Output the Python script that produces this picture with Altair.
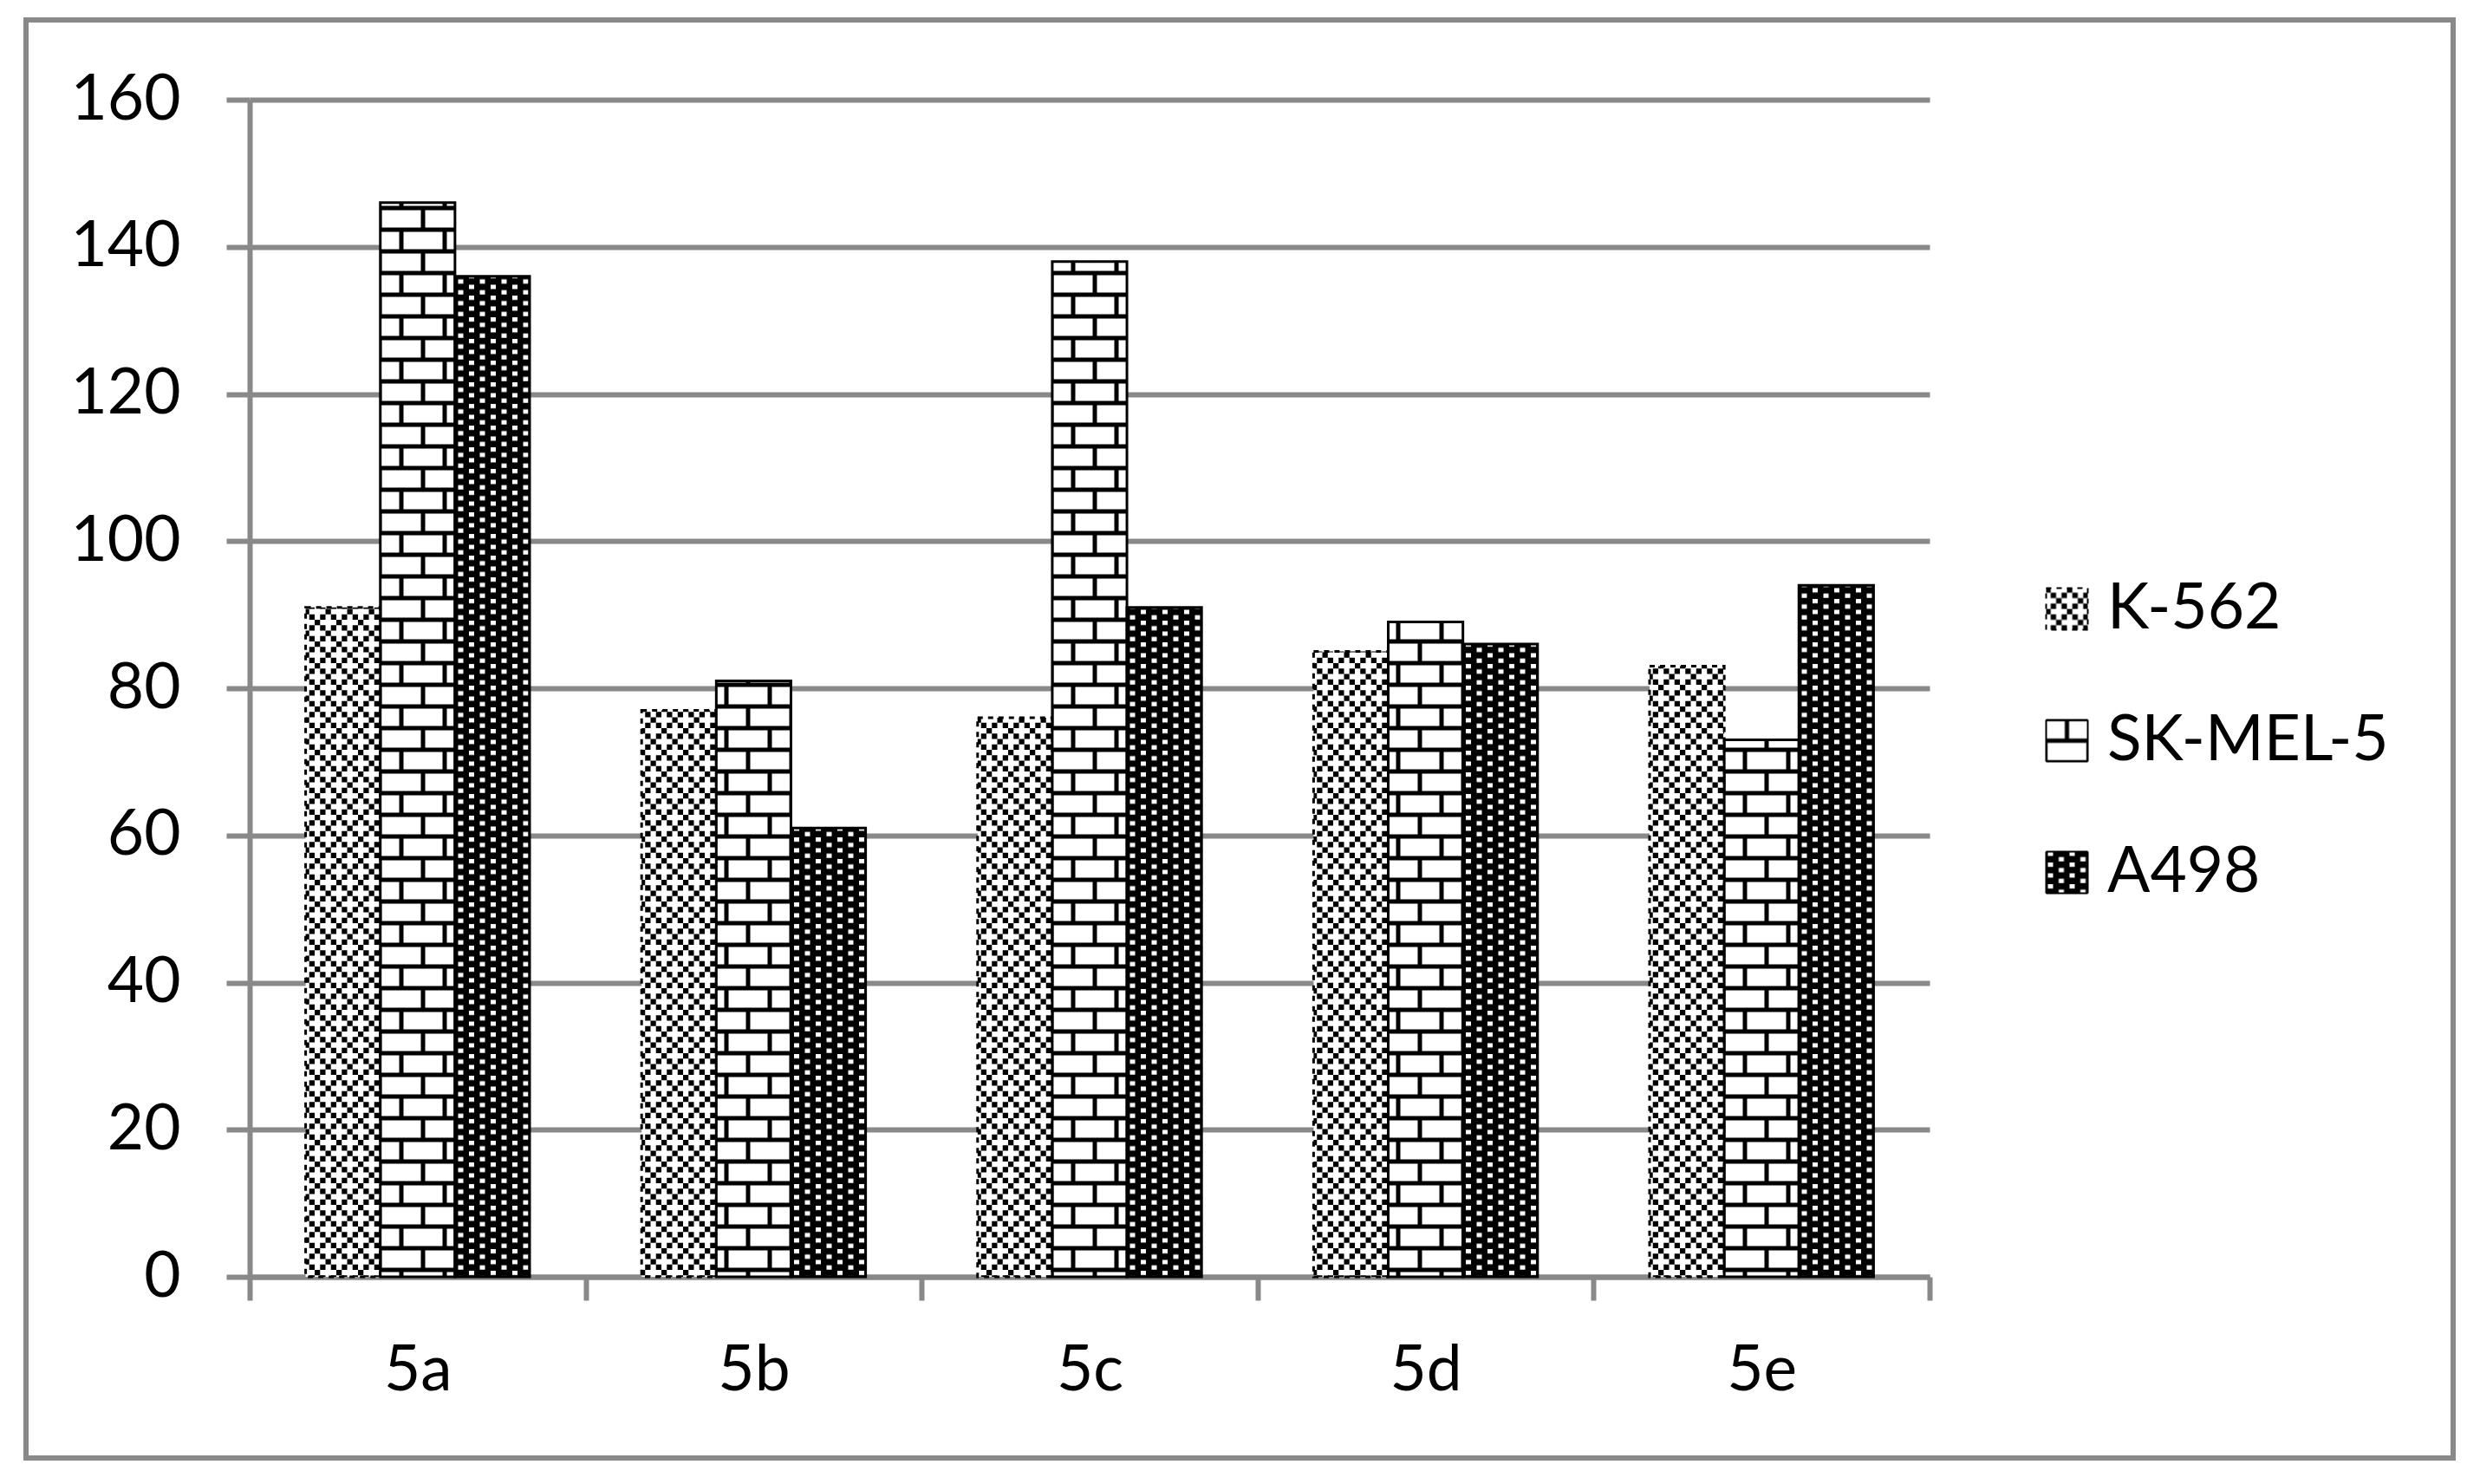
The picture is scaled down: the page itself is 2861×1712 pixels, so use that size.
import altair as alt
import pandas as pd
import altair.utils.html as _html

# ---- data ----
categories = ["5a", "5b", "5c", "5d", "5e"]
series = ["K-562", "SK-MEL-5", "A498"]
k562 = [91, 77, 76, 85, 83]
skmel5 = [146, 81, 138, 89, 73]
a498 = [136, 61, 91, 86, 94]
y_ticks = [0, 20, 40, 60, 80, 100, 120, 140, 160]

rows = []
for s, vals in zip(series, [k562, skmel5, a498]):
    for c, v in zip(categories, vals):
        rows.append({"compound": c, "line": s, "value": v})
df = pd.DataFrame(rows)

GRAY = "#898989"
FONT = "Lato"

# ---- hatch patterns (black & white fills, as in the original) ----
PATTERN_DEFS = """
<svg width="0" height="0" style="position:absolute;width:0;height:0;overflow:hidden" aria-hidden="true">
 <defs>
  <pattern id="pk562" patternUnits="userSpaceOnUse" width="25" height="25">
   <rect x="0" y="0" width="25" height="25" fill="#ffffff"/>
   <rect x="0" y="0" width="6.25" height="6.25" fill="#000000"/>
   <rect x="6.25" y="6.25" width="6.25" height="6.25" fill="#000000"/>
   <rect x="18.75" y="6.25" width="6.25" height="6.25" fill="#000000"/>
   <rect x="12.5" y="12.5" width="6.25" height="6.25" fill="#000000"/>
   <rect x="6.25" y="18.75" width="6.25" height="6.25" fill="#000000"/>
   <rect x="18.75" y="18.75" width="6.25" height="6.25" fill="#000000"/>
  </pattern>
  <pattern id="psk" patternUnits="userSpaceOnUse" width="50" height="50">
   <rect x="0" y="0" width="50" height="50" fill="#ffffff"/>
   <rect x="0" y="0" width="50" height="2.5" fill="#000000"/>
   <rect x="0" y="22.5" width="50" height="5" fill="#000000"/>
   <rect x="0" y="47.5" width="50" height="2.5" fill="#000000"/>
   <rect x="22.5" y="0" width="5" height="25" fill="#000000"/>
   <rect x="0" y="25" width="2.5" height="25" fill="#000000"/>
   <rect x="47.5" y="25" width="2.5" height="25" fill="#000000"/>
  </pattern>
  <pattern id="pa498" patternUnits="userSpaceOnUse" width="25" height="12.5">
   <rect x="0" y="0" width="25" height="12.5" fill="#000000"/>
   <rect x="3" y="1" width="6" height="5" fill="#ffffff"/>
   <rect x="15.5" y="7.25" width="6" height="5" fill="#ffffff"/>
  </pattern>
 </defs>
</svg>
"""


class _PatternTemplate:
    def __init__(self, base):
        self._base = base

    def render(self, *args, **kwargs):
        page = self._base.render(*args, **kwargs)
        if "<body>" in page:
            return page.replace("<body>", "<body>\n" + PATTERN_DEFS, 1)
        return PATTERN_DEFS + page


_html.TEMPLATES["standard"] = _PatternTemplate(_html.TEMPLATES["standard"])

fills = ["url(#pk562) #c8c8c8", "url(#psk) #e6e6e6", "url(#pa498) #3a3a3a"]
strokes = ["black", "black", "black"]
dashes = [[6, 6], [1, 0], [1, 0]]

legend_kw = dict(
    title=None,
    orient="none",
    legendX=2060,
    legendY=551,
    padding=0,
    symbolType="square",
    symbolSize=2304,
    symbolStrokeWidth=2,
    labelFont=FONT,
    labelFontSize=73,
    labelColor="black",
    labelOffset=10,
    rowPadding=78,
    labelLimit=1000,
)

bars = alt.Chart(df).mark_bar(strokeWidth=3).encode(
    x=alt.X(
        "compound:N",
        sort=categories,
        scale=alt.Scale(paddingInner=0, paddingOuter=0),
        axis=alt.Axis(
            title=None,
            labelAngle=0,
            tickBand="extent",
            grid=False,
            domainColor=GRAY,
            domainWidth=6,
            tickColor=GRAY,
            tickWidth=6,
            tickSize=27,
            labelPadding=45,
            labelFont=FONT,
            labelFontSize=73,
            labelColor="black",
        ),
    ),
    xOffset=alt.XOffset(
        "line:N", sort=series, scale=alt.Scale(paddingInner=0, paddingOuter=0.75)
    ),
    y=alt.Y(
        "value:Q",
        scale=alt.Scale(domain=[0, 160], nice=False),
        axis=alt.Axis(
            title=None,
            values=y_ticks,
            grid=True,
            gridColor=GRAY,
            gridWidth=6,
            domainColor=GRAY,
            domainWidth=6,
            tickColor=GRAY,
            tickWidth=6,
            tickSize=27,
            labelPadding=53,
            labelFont=FONT,
            labelFontSize=73,
            labelColor="black",
        ),
    ),
    fill=alt.Fill(
        "line:N",
        sort=series,
        scale=alt.Scale(domain=series, range=fills),
        legend=alt.Legend(**legend_kw),
    ),
    stroke=alt.Stroke(
        "line:N",
        sort=series,
        scale=alt.Scale(domain=series, range=strokes),
        legend=alt.Legend(**legend_kw),
    ),
    strokeDash=alt.StrokeDash(
        "line:N",
        sort=series,
        scale=alt.Scale(domain=series, range=dashes),
        legend=alt.Legend(**legend_kw),
    ),
)

frame = alt.Chart(pd.DataFrame({"f": [0]})).mark_rect(
    fill="transparent", stroke=GRAY, strokeWidth=6
).encode(
    x=alt.value(-258), x2=alt.value(2542), y=alt.value(-92), y2=alt.value(1567)
)

chart = (
    alt.layer(frame, bars)
    .properties(
        width=1938,
        height=1358,
        autosize=alt.AutoSizeParams(type="none"),
        padding={"left": 280, "top": 107, "right": 620, "bottom": 225},
        background="white",
    )
    .configure_view(strokeWidth=0)
)

chart.save("out.html", embed_options={"renderer": "svg", "actions": False})
